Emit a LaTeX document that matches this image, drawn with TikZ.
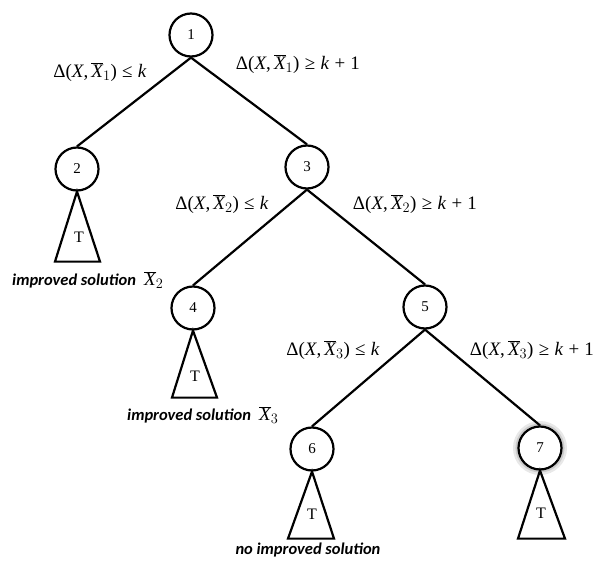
\documentclass[tikz,border=0pt]{standalone}
\usepackage{fontspec}
\setmainfont{Liberation Serif}
\newfontfamily\notefont{Carlito}
% a variable with a bar and an index, set in the text font
\newcommand{\barx}[1]{$\overline{\textit{X}}_{#1}$}
\begin{document}
\begin{tikzpicture}[x=1pt,y=-1pt,
  vertex/.style={circle,draw,line width=2.2pt,minimum size=43pt,inner sep=0pt,
    font=\fontsize{15}{18}\selectfont},
  edge/.style={line width=2.2pt},
  subtree/.style={draw,line width=2.2pt,line join=miter},
  tlabel/.style={inner sep=0pt,font=\fontsize{16}{18}\selectfont},
  cond/.style={inner sep=0pt,font=\fontsize{19}{21}\selectfont},
  note/.style={inner sep=0pt,font=\notefont\bfseries\itshape\fontsize{16.5}{18}\selectfont}]
\useasboundingbox (0,0) rectangle (598,562);

% soft halo around vertex 7
\draw[gray!18,line width=5pt] (540,448) circle (24.5pt);
\draw[gray!40,line width=2.5pt] (540,448) circle (23.3pt);

% vertices
\node[vertex] (n1) at (191,35) {1};
\node[vertex] (n2) at (77,169) {2};
\node[vertex] (n3) at (307,167) {3};
\node[vertex] (n4) at (193,308) {4};
\node[vertex] (n5) at (425,307) {5};
\node[vertex] (n6) at (312,449) {6};
\node[vertex] (n7) at (540,448) {7};

% branches
\draw[edge] (n1.south) -- (n2.north);
\draw[edge] (n1.south) -- (n3.north);
\draw[edge] (n3.south) -- (n4.north);
\draw[edge] (n3.south) -- (n5.north);
\draw[edge] (n5.south) -- (n6.north);
\draw[edge] (n5.south) -- (n7.north);

% subtrees
\draw[subtree] (n2.south) -- ++(-22,70) -- ++(45,0) -- cycle;
\draw[subtree] (n4.south) -- ++(-21,67) -- ++(45,0) -- cycle;
\draw[subtree] (n6.south) -- ++(-24,67) -- ++(46,0) -- cycle;
\draw[subtree] (n7.south) -- ++(-22,68) -- ++(47,0) -- cycle;
\node[tlabel] (t2) at (79,237) {T};
\node[tlabel] (t4) at (195,376) {T};
\node[tlabel] (t6) at (312,514) {T};
\node[tlabel] (t7) at (541,513) {T};

% branching conditions
\node[cond] (c1l) at (100,72) {Δ(\textit{X},\,\barx{1})\;≤\;\textit{k}};
\node[cond] (c1r) at (298,64) {Δ(\textit{X},\,\barx{1})\;≥\;\textit{k}\;+\;1};
\node[cond] (c2l) at (222,204) {Δ(\textit{X},\,\barx{2})\;≤\;\textit{k}};
\node[cond] (c2r) at (415,204) {Δ(\textit{X},\,\barx{2})\;≥\;\textit{k}\;+\;1};
\node[cond] (c3l) at (333,350) {Δ(\textit{X},\,\barx{3})\;≤\;\textit{k}};
\node[cond] (c3r) at (532,350) {Δ(\textit{X},\,\barx{3})\;≥\;\textit{k}\;+\;1};

% outcomes
\node[note,anchor=west] (o2) at (12,280) {improved solution\hspace{0.5em}{\normalfont\fontsize{19}{21}\selectfont\barx{2}}};
\node[note,anchor=west] (o4) at (127,415) {improved solution\hspace{0.5em}{\normalfont\fontsize{19}{21}\selectfont\barx{3}}};
\node[note] (o6) at (308,550) {no improved solution};
\end{tikzpicture}
\end{document}
